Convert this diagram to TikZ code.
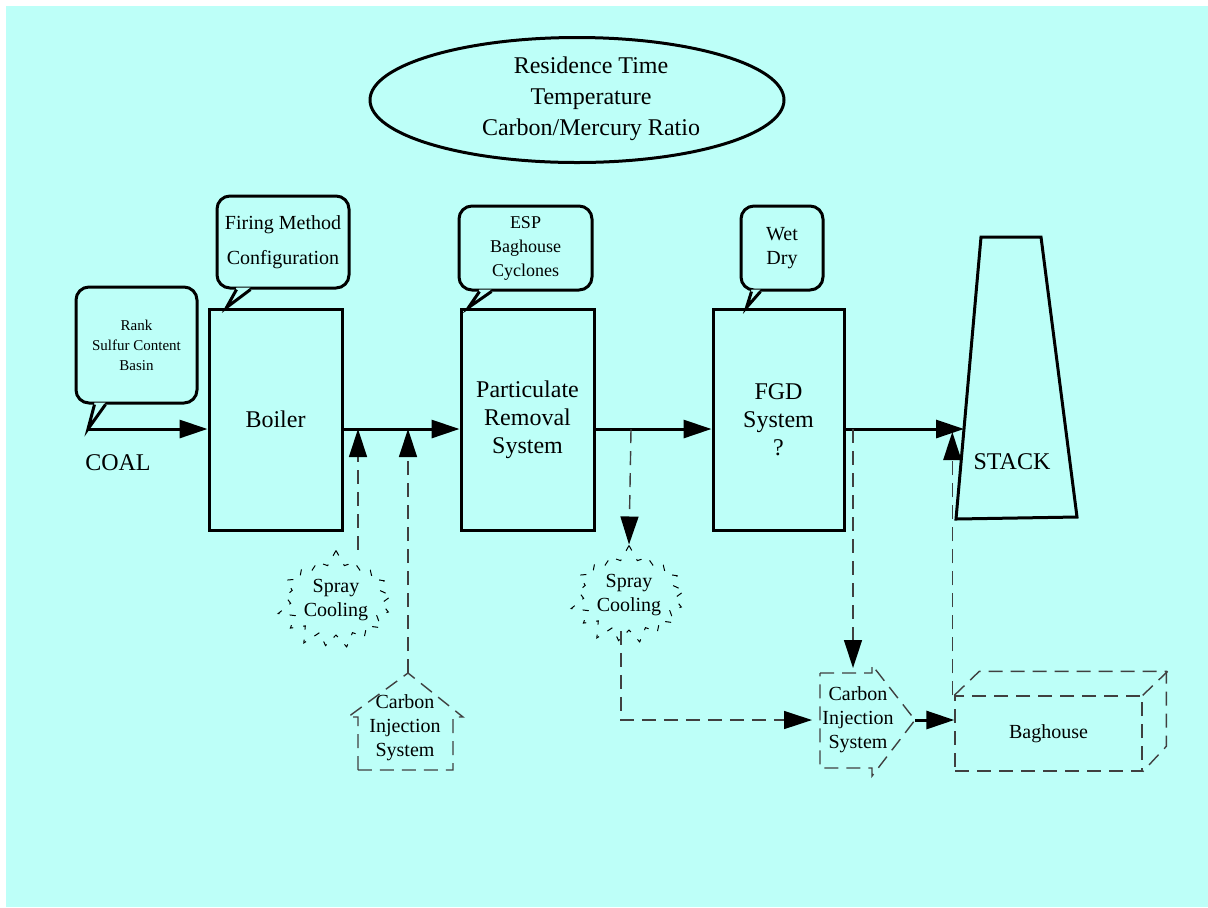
\documentclass[tikz,border=0pt]{standalone}
\usepackage{fontspec}
\setmainfont{Liberation Serif}
\usetikzlibrary{arrows.meta,shapes.geometric,shapes.symbols}
\definecolor{panelcyan}{RGB}{189,255,248}
\definecolor{dashgray}{RGB}{64,64,64}

\begin{document}
\begin{tikzpicture}[x=0.5pt, y=-0.5pt,
    unitbox/.style={draw, line width=1.5pt, minimum height=110.5pt, align=center, font=\fontsize{12}{14}\selectfont},
    bubble/.style={draw, line width=1.5pt, rounded corners=6.5pt, fill=panelcyan, align=center, inner sep=2pt},
    flow/.style={line width=1.5pt, -{Triangle[length=14pt,width=9pt]}},
    dflow/.style={draw=dashgray, line width=0.7pt, dash pattern=on 7pt off 4pt, -{Triangle[length=14pt,width=9pt,color=black]}},
    dbox/.style={draw=dashgray, line width=0.7pt, dash pattern=on 7pt off 4pt},
    spray/.style={starburst, draw, line width=0.5pt, dash pattern=on 3pt off 5pt, starburst points=17, starburst point height=8pt, random starburst=7, minimum size=51pt, inner sep=0pt, align=center, font=\fontsize{10}{12}\selectfont},
    smalltxt/.style={align=center, font=\fontsize{10}{12}\selectfont}]
  \useasboundingbox (0,0) rectangle (1208,907);
  \fill[panelcyan] (6,6) rectangle (1208,907);

  % factors
  \node[draw, ellipse, line width=1.5pt, minimum width=207pt, minimum height=62.5pt] (factorsrim) at (577,100) {};
  \node[align=center, font=\fontsize{12}{15.5}\selectfont] (factors) at (591,99) {Residence Time\\Temperature\\Carbon/Mercury Ratio};

  % main units
  \node[unitbox, minimum width=66.5pt] (boiler) at (275.5,419.5) {Boiler};
  \node[unitbox, minimum width=66.5pt] (prs) at (527.5,419.5) {Particulate\\Removal\\System};
  \node[unitbox, minimum width=65.5pt] (fgd) at (778.5,419.5) {FGD\\System\\?};
  \draw[line width=1.5pt] (981,237) -- (1041,237) -- (1077,517) -- (956,519) -- cycle;
  \node[font=\fontsize{12}{14}\selectfont] (stack) at (1012,462) {STACK};
  \coordinate (stackin) at (964,429);

  \coordinate (coal) at (88,429);
  \node[font=\fontsize{12}{14}\selectfont] (coaltxt) at (118,463) {COAL};

  % callouts
  \node[bubble, minimum width=60.5pt, minimum height=58pt, font=\fontsize{7.5}{10}\selectfont] (coalcall) at (136.5,345) {Rank\\Sulfur Content\\Basin};
  \fill[panelcyan] ([xshift=10pt,yshift=1pt]coalcall.south west) -- (coal) -- ([xshift=15.5pt,yshift=1pt]coalcall.south west) -- cycle;
  \draw[line width=1.5pt] ([xshift=10pt]coalcall.south west) -- (coal) -- ([xshift=15.5pt]coalcall.south west);

  \node[bubble, minimum width=66pt, minimum height=46pt, font=\fontsize{10}{17.5}\selectfont] (firecall) at (283,242) {Firing Method\\Configuration};
  \fill[panelcyan] ([xshift=10.5pt,yshift=1pt]firecall.south west) -- ([xshift=9.5pt]boiler.north west) -- ([xshift=17.5pt,yshift=1pt]firecall.south west) -- cycle;
  \draw[line width=1.5pt] ([xshift=10.5pt]firecall.south west) -- ([xshift=9.5pt]boiler.north west) -- ([xshift=17.5pt]firecall.south west);

  \node[bubble, minimum width=66.5pt, minimum height=42pt, font=\fontsize{9}{12}\selectfont] (espcall) at (525.5,248) {ESP\\Baghouse\\Cyclones};
  \fill[panelcyan] ([xshift=11pt,yshift=1pt]espcall.south west) -- ([xshift=4.5pt]prs.north west) -- ([xshift=17pt,yshift=1pt]espcall.south west) -- cycle;
  \draw[line width=1.5pt] ([xshift=11pt]espcall.south west) -- ([xshift=4.5pt]prs.north west) -- ([xshift=17pt]espcall.south west);

  \node[bubble, minimum width=41pt, minimum height=42pt, font=\fontsize{10}{12}\selectfont] (fgdcall) at (782,248) {Wet\\Dry};
  \fill[panelcyan] ([xshift=6pt,yshift=1pt]fgdcall.south west) -- ([xshift=17.5pt]fgd.north west) -- ([xshift=10.5pt,yshift=1pt]fgdcall.south west) -- cycle;
  \draw[line width=1.5pt] ([xshift=6pt]fgdcall.south west) -- ([xshift=17.5pt]fgd.north west) -- ([xshift=10.5pt]fgdcall.south west);

  % add-on equipment
  \node[spray] (sprayL) at (336,600) {Spray\\Cooling};
  \node[spray] (sprayR) at (629,595) {Spray\\Cooling};

  \draw[dbox] (358,770) -- (358,717) -- (348,717) -- (408,673) -- (463,717) -- (453,717) -- (453,770) -- cycle;
  \node[smalltxt] (cisL) at (405,728) {Carbon\\Injection\\System};
  \coordinate (cisLtip) at (408,673);

  \draw[dbox] (820,673) -- (872,673) -- (872,665) -- (915,720) -- (872,776) -- (872,768) -- (820,768) -- cycle;
  \node[smalltxt] (cisR) at (858,720) {Carbon\\Injection\\System};
  \coordinate (cisRtip) at (915,720);
  \coordinate (cisRback) at (820,720);
  \coordinate (cisRtop) at (853,673);

  \node[dbox, minimum width=93.5pt, minimum height=37.5pt, smalltxt] (bag) at (1048.5,733.5) {Baghouse};
  \draw[dbox] (bag.north west) -- ++(25,-24) -- ++(187,0) -- ++(0,75) -- (bag.south east);
  \draw[dbox] (bag.north east) -- ++(25,-24);

  % gas path
  \draw[flow] (coal) -- (coal -| boiler.west);
  \draw[flow] (coal -| boiler.east) -- (coal -| prs.west);
  \draw[flow] (coal -| prs.east) -- (coal -| fgd.west);
  \draw[flow] (coal -| fgd.east) -- (stackin);

  \coordinate (jA) at (358,429);
  \coordinate (jB) at (408,429);
  \coordinate (jC) at (631,429);
  \coordinate (jD) at (853,429);
  \draw[dflow] (jA |- sprayL.north) -- (jA);
  \draw[dflow] (cisLtip) -- (jB);
  \draw[dflow] (jC) -- (sprayR.north);
  \draw[dflow, shorten >=4pt] ([xshift=-4pt]sprayR.south) |- (cisRback);
  \draw[dflow, shorten >=2.5pt] (jD) -- (cisRtop);
  \draw[flow] (cisRtip) -- (cisRtip -| bag.west);
  \draw[dflow, shorten >=1.5pt] ([xshift=-1pt]bag.north west) -- ([xshift=-1pt]bag.north west |- coal);
\end{tikzpicture}
\end{document}
